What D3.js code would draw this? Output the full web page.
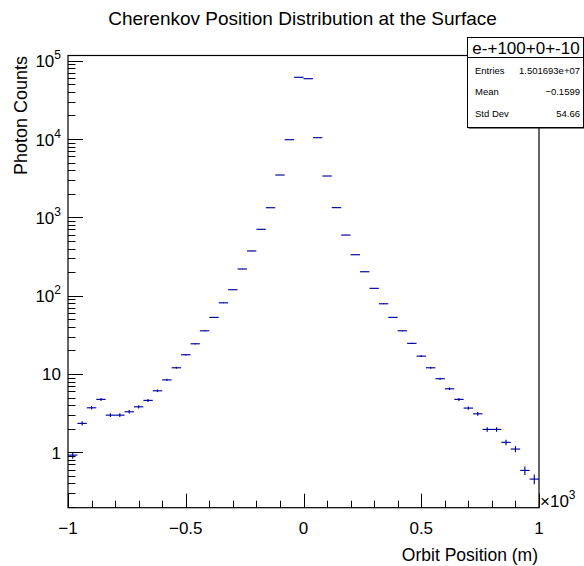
<!DOCTYPE html>
<html><head><meta charset="utf-8">
<script src="https://cdn.jsdelivr.net/npm/d3@7"></script>
<style>body{margin:0;background:#fff}svg{display:block}text{font-family:"Liberation Sans",Arial,Helvetica,sans-serif}</style>
</head><body>
<script>
// ---- data ----
const binEdges = [-1, 1];
const nBins = 50;
const counts = [0.92,2.34,3.70,4.74,2.98,2.98,3.29,3.81,4.6,6.1,
  8.4,12.0,17.6,24.3,35.6,52.8,81,119,219,372,
  703,1327,3470,9800,61400,58900,10400,3370,1330,594,
  333,202,124,78.8,52.8,35.6,24.6,16.9,12.0,8.7,
  6.47,4.74,3.67,3.1,1.96,1.96,1.34,1.10,0.587,0.455];
const errors = [0.091,0.145,0.182,0.207,0.164,0.164,0.172,0.185,0.203,0.234,
  0.275,0.329,0.398,0.468,0.566,0.689,0.854,1.035,1.404,1.830,
  2.515,3.456,5.59,9.39,23.5,23.0,9.67,5.51,3.46,2.31,
  1.73,1.35,1.056,0.842,0.689,0.566,0.471,0.390,0.329,0.280,
  0.241,0.207,0.182,0.167,0.133,0.133,0.110,0.0995,0.0727,0.064];
const xTickLabels = ["\u22121","\u22120.5","0","0.5","1"];
const xTickValues = [-1,-0.5,0,0.5,1];
const yDecades = [0,1,2,3,4,5];
const statsLabels = ["Entries","Mean","Std Dev"];
const statsValues = ["1.501693e+07","\u22120.1599","54.66"];
const histName = "e-+100+0+-10";

const W=584,H=566;
const L=68,R=539,T=55.5,B=507.7;
const svg=d3.select("body").append("svg").attr("width",W).attr("height",H);
const x=d3.scaleLinear().domain(binEdges).range([L,R]);
const y=d3.scaleLog().domain([0.1962,1.165e5]).range([B,T]);
const bw=(binEdges[1]-binEdges[0])/nBins;

// title
svg.append("text").attr("x",302.5).attr("y",25).attr("text-anchor","middle")
  .attr("font-size",19).text("Cherenkov Position Distribution at the Surface");

// y ticks
const yTicks=[];
for(let k=-1;k<=5;k++)for(let m=1;m<=9;m++){const v=m*Math.pow(10,k);if(v>=y.domain()[0]&&v<=y.domain()[1])yTicks.push({v,major:m===1});}
const ax=svg.append("g");
ax.selectAll(".yt").data(yTicks).join("line")
  .attr("x1",L).attr("x2",d=>L+(d.major?15:7.5))
  .attr("y1",d=>Math.round(y(d.v))+0.5).attr("y2",d=>Math.round(y(d.v))+0.5)
  .attr("stroke","#000").attr("stroke-width",1);
// x ticks
const xTicks=d3.range(0,21).map(i=>({v:-1+i*0.1,major:i%5===0}));
ax.selectAll(".xt").data(xTicks).join("line")
  .attr("x1",d=>Math.round(x(d.v))+0.5).attr("x2",d=>Math.round(x(d.v))+0.5)
  .attr("y1",B).attr("y2",d=>B-(d.major?14:7))
  .attr("stroke","#000").attr("stroke-width",1);

// frame
svg.append("rect").attr("x",L).attr("y",T).attr("width",R-L).attr("height",B-T)
  .attr("fill","none").attr("stroke","#000").attr("stroke-width",1.2);

// y labels
yDecades.forEach(k=>{
  const t=svg.append("text").attr("x",61).attr("y",y(Math.pow(10,k))+6.5)
    .attr("text-anchor","end").attr("font-size",17);
  if(k===0)t.text("1");
  else if(k===1)t.text("10");
  else{t.append("tspan").text("10");t.append("tspan").attr("font-size",12).attr("dy",-8).text(String(k));}
});
// x labels
xTickValues.forEach((v,i)=>{
  svg.append("text").attr("x",x(v)).attr("y",534).attr("text-anchor","middle")
    .attr("font-size",17).text(xTickLabels[i]);
});
// x10^3
const ex=svg.append("text").attr("x",540).attr("y",507).attr("font-size",17);
ex.append("tspan").text("\u00d710");
ex.append("tspan").attr("font-size",12).attr("dy",-8).text("3");

// axis titles
svg.append("text").attr("x",538).attr("y",561).attr("text-anchor","end")
  .attr("font-size",17.5).text("Orbit Position (m)");
svg.append("text").attr("transform","translate(27,56) rotate(-90)").attr("text-anchor","end")
  .attr("font-size",18).text("Photon Counts");

// data points
const pts=counts.map((c,i)=>({c,e:errors[i],x0:binEdges[0]+i*bw,x1:binEdges[0]+(i+1)*bw,xc:binEdges[0]+(i+0.5)*bw}));
const g=svg.append("g").attr("stroke","#00009c").attr("stroke-width",1.15);
g.selectAll(".h").data(pts).join("line")
  .attr("x1",d=>x(d.x0)).attr("x2",d=>x(d.x1))
  .attr("y1",d=>y(d.c)).attr("y2",d=>y(d.c));
g.selectAll(".v").data(pts).join("line")
  .attr("x1",d=>x(d.xc)).attr("x2",d=>x(d.xc))
  .attr("y1",d=>y(d.c+d.e)).attr("y2",d=>y(Math.max(d.c-d.e,1e-3)));

// stats box
const bx=467,by=37,bwid=116,bh=90;
svg.append("rect").attr("x",bx+1.5).attr("y",by+1.5).attr("width",bwid).attr("height",bh).attr("fill","#000");
svg.append("rect").attr("x",bx+0.5).attr("y",by+0.5).attr("width",bwid).attr("height",bh).attr("fill","#fff").attr("stroke","#000");
svg.append("line").attr("x1",bx).attr("x2",bx+bwid).attr("y1",57.5).attr("y2",57.5).attr("stroke","#000");
svg.append("text").attr("x",526).attr("y",53.5).attr("text-anchor","middle").attr("font-size",17).text(histName);
const rowY=[73.5,95,117];
statsLabels.forEach((s,i)=>{
  svg.append("text").attr("x",475).attr("y",rowY[i]).attr("font-size",9.5).text(s);
  svg.append("text").attr("x",580).attr("y",rowY[i]).attr("text-anchor","end").attr("font-size",9.5).text(statsValues[i]);
});
</script>
</body></html>
